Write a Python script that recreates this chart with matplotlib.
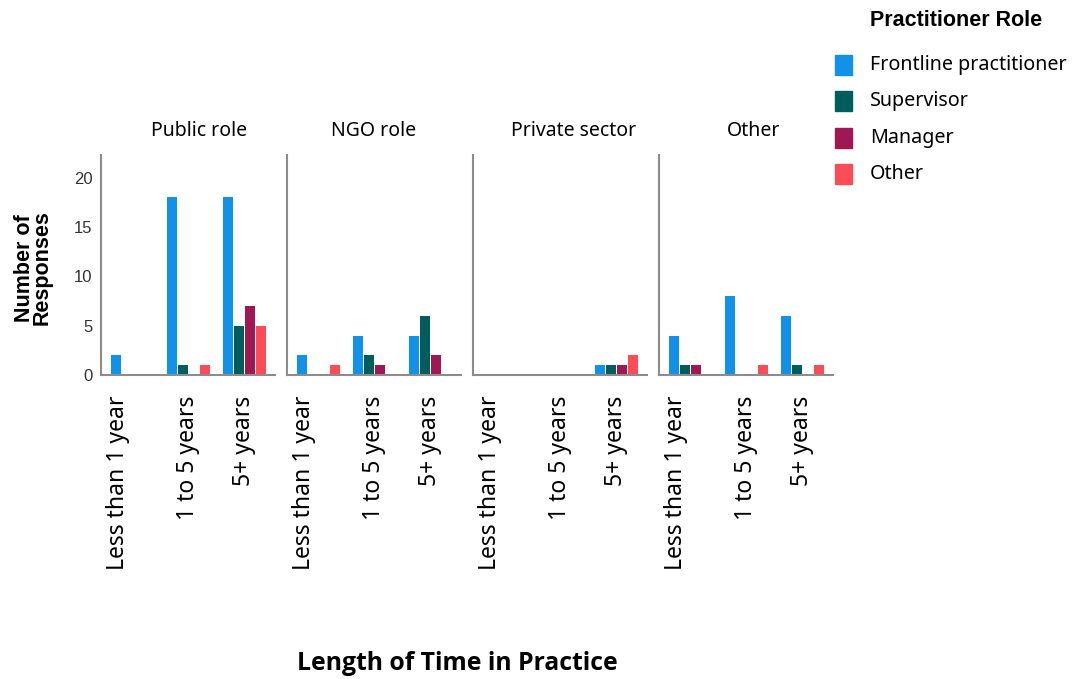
import numpy as np
import matplotlib
matplotlib.use("Agg")
import matplotlib.pyplot as plt
import matplotlib.transforms as mtransforms
from matplotlib.patches import Rectangle

# data
panels = ["Public role", "NGO role", "Private sector", "Other"]
periods = ["Less than 1 year", "1 to 5 years", "5+ years"]
roles = ["Frontline practitioner", "Supervisor", "Manager", "Other"]
colors = ["#1192E8", "#005D5D", "#9F1853", "#FA4D56"]

# counts[panel] -> per period, one list per role
frontline = [[2, 18, 18], [2, 4, 4], [0, 0, 1], [4, 8, 6]]
supervisor = [[0, 1, 5], [0, 2, 6], [0, 0, 1], [1, 0, 1]]
manager = [[0, 0, 7], [0, 1, 2], [0, 0, 1], [1, 0, 0]]
other = [[0, 1, 5], [1, 0, 0], [0, 0, 2], [0, 1, 1]]
series = [frontline, supervisor, manager, other]

W, H = 1073, 679
fig = plt.figure(figsize=(W / 100, H / 100), dpi=100)

lefts = [101, 287, 473, 659]
title_x = [199, 374, 574, 754]
pw = 174
top, bot = 155, 375

slot = 0.195
bw = 0.178
x = np.arange(len(periods))

for p, name in enumerate(panels):
    ax = fig.add_axes([lefts[p] / W, 1 - bot / H, pw / W, (bot - top) / H])
    for r in range(len(roles)):
        vals = series[r][p]
        ax.bar(x - 1.5 * slot + r * slot, vals, width=bw, color=colors[r],
               edgecolor="none", zorder=2)
    ax.set_xlim(-0.56, 2.55)
    ax.set_ylim(0, 22.3)
    for s in ["top", "right"]:
        ax.spines[s].set_visible(False)
    for s in ["left", "bottom"]:
        ax.spines[s].set_color("#8c8c8c")
        ax.spines[s].set_linewidth(1.5)
    ax.set_xticks(x)
    ax.set_xticklabels(periods, rotation=90, fontsize=16.5, family="Noto Sans",
                       va="top", ha="center")
    ax.tick_params(axis="x", length=0, pad=15, colors="black")
    # the first label sits a bit left of its group in the original
    lab0 = ax.get_xticklabels()[0]
    lab0.set_transform(lab0.get_transform() +
                       mtransforms.ScaledTranslation(-14 / 100, 0, fig.dpi_scale_trans))
    ax.set_yticks([0, 5, 10, 15, 20])
    if p == 0:
        ax.tick_params(axis="y", length=0, pad=6, labelsize=12, labelcolor="#333333")
        for t in ax.get_yticklabels():
            t.set_family("Liberation Sans")
    else:
        ax.tick_params(axis="y", length=0, labelleft=False)
    fig.text(title_x[p] / W, 1 - 131 / H, name, ha="center", va="center",
             fontsize=14, family="Noto Sans")

fig.text(33 / W, 1 - 268 / H, "Number of\nResponses", rotation=90, ha="center",
         va="center", fontsize=15.5, fontweight="bold",
         family="Liberation Sans", linespacing=0.8)

fig.text(457 / W, 1 - 664 / H, "Length of Time in Practice", ha="center",
         va="center", fontsize=17.8, fontweight="bold", family="Open Sans")

# legend
fig.text(870 / W, 1 - 21 / H, "Practitioner Role", ha="left", va="center",
         fontsize=15.5, fontweight="bold", family="Liberation Sans")
ys = [65, 101, 138, 174]
for r, lab in enumerate(roles):
    fig.patches.append(Rectangle((835 / W, 1 - (ys[r] + 10) / H), 17 / W, 20 / H,
                                 transform=fig.transFigure, color=colors[r]))
    fig.text(870 / W, 1 - ys[r] / H, lab, ha="left", va="center",
             fontsize=14.2, family="Noto Sans")

fig.savefig("out.png", dpi=100)
